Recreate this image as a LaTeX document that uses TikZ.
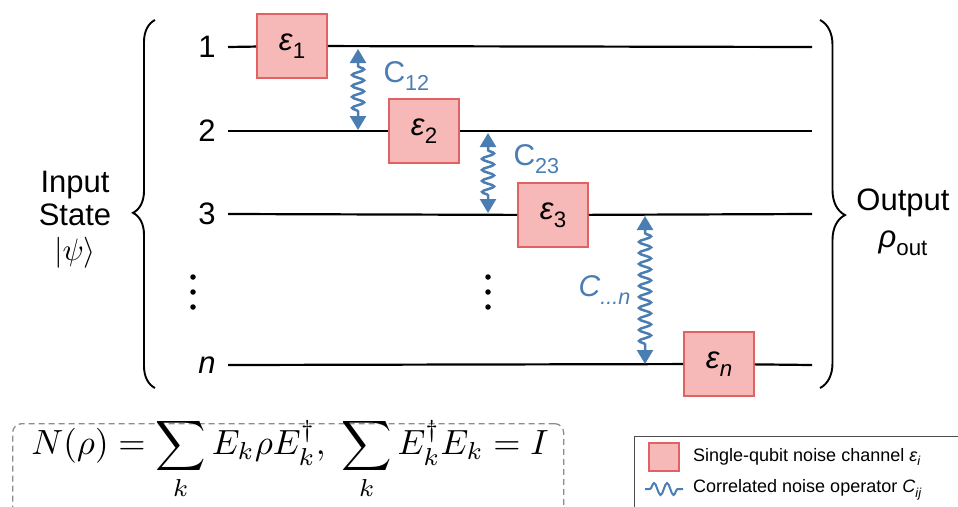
\documentclass[tikz,border=0pt]{standalone}
\usepackage{graphicx}
\usepackage{fontspec}
\setmainfont{Liberation Sans}
\usetikzlibrary{decorations.pathmorphing,decorations.pathreplacing,arrows.meta}

\definecolor{chanfill}{HTML}{F6B9B7}
\definecolor{chanline}{HTML}{E06262}
\definecolor{corrblue}{HTML}{4A7DB2}
\definecolor{dashgray}{HTML}{8C8C8C}

% lowered, shrunk subscript in the current text font
\newcommand{\lsub}[1]{\raisebox{-0.26em}{\scalebox{0.72}{#1}}}

\tikzset{
  chan/.style={draw=chanline, fill=chanfill, line width=1.7pt,
    minimum width=70pt, minimum height=64pt, inner sep=0pt,
    font=\fontsize{31}{31}\selectfont},
  wire/.style={line width=2.2pt},
  qlabel/.style={font=\fontsize{31}{31}\selectfont},
  corr/.style={draw=corrblue, line width=2.5pt, decorate,
    decoration={snake, amplitude=6pt, segment length=11pt,
      pre length=17pt, post length=17pt},
    {Triangle[width=16pt,length=14pt]}-{Triangle[width=16pt,length=14pt]}},
  corrlabel/.style={text=corrblue, font=\fontsize{30}{30}\selectfont},
  bigbrace/.style={line width=1.9pt, decorate},
  sidetext/.style={align=center, inner sep=0pt, font=\fontsize{31}{33}\selectfont},
  dotmark/.style={fill=black, draw=none, circle, minimum size=5.5pt, inner sep=0pt},
  legendtext/.style={anchor=west, inner sep=0pt, font=\fontsize{18}{18}\selectfont}
}

\begin{document}
\begin{tikzpicture}[x=1pt, y=-1pt]
\clip (0,0) rectangle (958,506);

% qubit labels
\node[qlabel] (l1) at (207,47) {1};
\node[qlabel] (l2) at (207,131) {2};
\node[qlabel] (l3) at (207,214) {3};
\node[qlabel] (ln) at (207,365) {\textit{n}};

% wire ends
\coordinate (s1) at (228,47);  \coordinate (r1) at (812,47);
\coordinate (s2) at (228,131); \coordinate (r2) at (812,131);
\coordinate (s3) at (228,214); \coordinate (r3) at (812,214);
\coordinate (sn) at (228,365); \coordinate (rn) at (812,365);

% single-qubit channels
\node[chan] (e1) at (292,46)  {\textit{ε}\lsub{1}};
\node[chan] (e2) at (424,131) {\textit{ε}\lsub{2}};
\node[chan] (e3) at (553,215) {\textit{ε}\lsub{3}};
\node[chan] (en) at (719,364) {\textit{ε}\lsub{\textit{n}}};

% wires
\draw[wire] (s1) -- (e1) (e1) -- (r1);
\draw[wire] (s2) -- (e2) (e2) -- (r2);
\draw[wire] (s3) -- (e3) (e3) -- (r3);
\draw[wire] (sn) -- (en) (en) -- (rn);

% vertical ellipses
\foreach \yy in {277,292,307} {
  \node[dotmark] at (193,\yy) {};
  \node[dotmark] at (488,\yy) {};
}

% correlated noise operators
\coordinate (c12a) at (358,49);  \coordinate (c12b) at (358,130);
\coordinate (c23a) at (488,133); \coordinate (c23b) at (488,213);
\coordinate (cna)  at (645,216); \coordinate (cnb)  at (645,364);
\draw[corr] (c12a) -- (c12b);
\draw[corr] (c23a) -- (c23b);
\draw[corr] (cna) -- (cnb);
\node[corrlabel, anchor=west] (t12) at (380,76) {C\lsub{12}};
\node[corrlabel, anchor=west] (t23) at (510,159) {C\lsub{23}};
\node[corrlabel, anchor=east] (tn) at (634,290) {\textit{C}\lsub{\textit{...n}}};

% braces
\coordinate (lbb) at (155,388); \coordinate (lbt) at (155,20);
\coordinate (rbt) at (820,20);  \coordinate (rbb) at (820,388);
\draw[bigbrace, decoration={brace, amplitude=22pt, aspect=0.476}] (lbb) -- (lbt);
\draw[bigbrace, decoration={brace, amplitude=25pt, aspect=0.53}] (rbt) -- (rbb);

\node[sidetext] (inp) at (75,198) {Input\\State};
\node[inner sep=0pt] (psi) at (75,253)
  {\scalebox{3.1}{\fontsize{10}{12}\selectfont$|\psi\rangle$}};
\node[sidetext, font=\fontsize{31}{37}\selectfont] (outp) at (903,222)
  {Output\\\textit{ρ}\lsub{out}};

% Kraus form of the channel
\node[draw=dashgray, dashed, dash pattern=on 6pt off 4pt, line width=1.3pt,
  rounded corners=9pt, minimum width=551pt, minimum height=110pt,
  anchor=north west] (eqbox) at (12,423) {};
\node (eq) at (290,459) {\scalebox{3.5}{\fontsize{10}{12}\selectfont
  $\displaystyle N(\rho)=\sum_k E_k\rho E_k^\dagger,\ \sum_k E_k^\dagger E_k = I$}};

% legend
\node[draw=black!70, line width=1.2pt, minimum width=340pt, minimum height=100pt,
  anchor=north west] (legend) at (634,436) {};
\node[draw=chanline, fill=chanfill, line width=1.5pt, minimum width=30pt,
  minimum height=28pt, inner sep=0pt] (legchan) at (664,457) {};
\node[legendtext] (legchantext) at (693,457) {Single-qubit noise channel \textit{ε}\lsub{\textit{i}}};
\coordinate (lw1) at (645,489); \coordinate (lw2) at (683,489);
\draw[draw=corrblue, line width=2pt, decorate,
  decoration={snake, amplitude=6pt, segment length=13pt, pre length=5pt, post length=5pt}] (lw1) -- (lw2);
\node[legendtext] (legcorrtext) at (693,490) {Correlated noise operator \textit{C}\lsub{\textit{ij}}};
\end{tikzpicture}
\end{document}
